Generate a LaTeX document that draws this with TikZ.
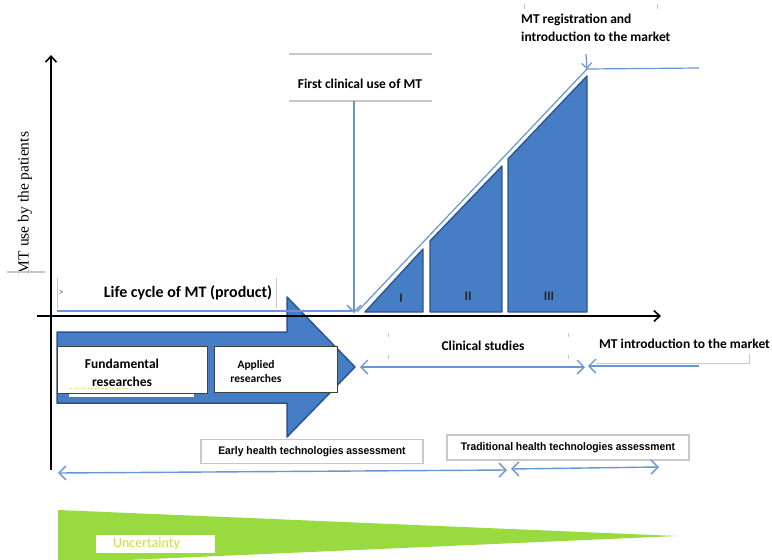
\documentclass[tikz,border=0pt]{standalone}
\usepackage{fontspec}
\setmainfont{Carlito}
\newfontfamily\arialf[FakeStretch=0.94]{Liberation Sans}
\newfontfamily\timesf{Liberation Serif}
\usetikzlibrary{arrows.meta}
\definecolor{mblue}{RGB}{70,126,198}
\definecolor{dblue}{RGB}{44,84,150}
\definecolor{lblue}{RGB}{105,150,210}
\definecolor{lgray}{RGB}{200,200,200}
\definecolor{mgreen}{RGB}{152,218,64}
\definecolor{ygreen}{RGB}{200,226,50}
\tikzset{vbarb/.tip={Straight Barb[length=7pt,width=14pt,line width=1.4pt]}}
\begin{document}
\begin{tikzpicture}[x=1pt,y=-1pt,
  txt/.style={inner sep=0pt, font=\bfseries\fontsize{13.5}{18}\selectfont},
  smalltxt/.style={inner sep=0pt, font=\bfseries\fontsize{11.5}{14}\selectfont},
  hta/.style={draw=lgray, line width=1.5pt, fill=white, inner sep=0pt, font=\arialf\bfseries\fontsize{11}{13}\selectfont},
  wbox/.style={draw=black!75, line width=1pt, fill=white, inner sep=0pt},
  axis/.style={line width=1.8pt, -{Straight Barb[length=6pt,width=11pt,line width=1.6pt]}},
  bline/.style={draw=lblue, line width=1.4pt},
  grayline/.style={draw=lgray, line width=1.4pt},
  stage/.style={fill=mblue, draw=dblue, line width=1.4pt, line join=round},
  roman/.style={inner sep=0pt, font=\bfseries\fontsize{13}{13}\selectfont, text=black!85}
]
\useasboundingbox (0,0) rectangle (772,560);
\fill[white] (0,0) rectangle (772,560);

% uncertainty wedge
\begin{scope}
  \clip (0,0) rectangle (772,560);
  \fill[mgreen] (58,510) -- (677,536) -- (58,563) -- cycle;
\end{scope}
\node[fill=white, minimum width=119pt, minimum height=18pt, inner sep=0pt] (uncbox) at (155.5,544) {};
\node[inner sep=0pt, font=\fontsize{14}{16}\selectfont, text=ygreen] (unc) at (146.5,544) {Uncertainty};

% big research arrow
\draw[stage, line width=1.5pt] (57,332) -- (287,332) -- (287,297) -- (355,367) -- (287,437) -- (287,403) -- (57,403) -- cycle;
\fill[white] (69,390) rectangle (194,397);
\node[wbox, minimum width=150pt, minimum height=47pt] (fundbox) at (132,369.5) {};
\draw[ygreen!70, line width=0.5pt, dash pattern=on 2pt off 1.5pt] (70,388.5) -- (128,388.5);
\node[txt, align=center] (fund) at (122,373) {Fundamental\\researches};
\node[wbox, minimum width=123pt, minimum height=46pt] (applbox) at (275.5,369.5) {};
\node[smalltxt, align=center] (appl) at (256,372) {Applied\\researches};

% axes
\coordinate (yb) at (51,470);
\coordinate (yt) at (51,55);
\coordinate (xl) at (37,316);
\coordinate (xr) at (661,316);
\draw[axis] (yb) -- (yt);
\draw[axis] (xl) -- (xr);
\node[rotate=90, inner sep=0pt, font=\timesf\fontsize{15.5}{18}\selectfont] (ylab) at (25,203) {MT use by the patients};
\coordinate (gl1) at (7,272);
\coordinate (gl2) at (45,272);
\draw[grayline] (gl1) -- (gl2);

% life cycle
\node[txt, font=\bfseries\fontsize{16}{18}\selectfont] (life) at (188,293) {Life cycle of MT (product)};
\draw[grayline, line width=1pt] (57,278) -- (57,308);
\draw[grayline, line width=1pt] (276,278) -- (276,308);
\node[inner sep=0pt, font=\fontsize{10}{10}\selectfont, text=black!60] (gt) at (61,293) {>};
\coordinate (lcl) at (57,311);
\coordinate (lcr) at (352,311);
\draw[bline, line width=1.2pt] (lcl) -- (lcr);

% clinical stages
\draw[stage] (365,312) -- (423,249) -- (423,312) -- cycle;
\draw[stage] (430,312) -- (430,241) -- (502,166) -- (502,312) -- cycle;
\draw[stage] (508,312) -- (508,159) -- (587,76) -- (587,312) -- cycle;
\node[roman] (s1) at (401,298) {I};
\node[roman] (s2) at (468,296) {II};
\node[roman] (s3) at (549,296) {III};

% first clinical use
\draw[grayline] (289,54) -- (432,54);
\draw[grayline] (289,101) -- (432,101);
\node[txt] (fcu) at (360,84) {First clinical use of MT};
\coordinate (fcub) at (354,101);
\coordinate (start) at (354,313);
\draw[bline, -{vbarb}] (fcub) -- (start);
\coordinate (regpt) at (587,69);
\draw[bline, line width=1.2pt] (357,312) -- (regpt);

% registration
\node[txt, align=left, anchor=west] (reg) at (521,28) {MT registration and\\introduction to the market};
\draw[grayline, line width=1pt] (524,4) -- (524,9);
\draw[grayline, line width=1pt] (657,4) -- (657,9);
\coordinate (rega) at (586,54);
\draw[bline, line width=1.2pt, -{Straight Barb[length=5pt,width=10pt,line width=1.2pt]}] (rega) -- (regpt);
\coordinate (regr) at (699,68);
\draw[bline, line width=1.2pt] (regpt) -- (regr);

% clinical studies
\node[txt] (clin) at (483,346) {Clinical studies};
\foreach \xx in {388,568} {
  \draw[grayline, line width=1pt] (\xx,333) -- (\xx,337);
  \draw[grayline, line width=1pt] (\xx,355) -- (\xx,359);
}
\coordinate (cl) at (360,367);
\coordinate (cr) at (585,367);
\draw[bline, {vbarb}-{vbarb}] (cl) -- (cr);

% MT introduction to the market
\node[txt] (mti) at (684.5,344) {MT introduction to the market};
\draw[grayline, line width=1pt] (596,363) -- (749,363) -- (749,354);
\coordinate (mtir) at (699,366);
\coordinate (mtil) at (588,366);
\draw[bline, line width=1.8pt, -{vbarb}] (mtir) -- (mtil);

% HTA boxes
\node[hta, minimum width=222pt, minimum height=24pt] (early) at (312,451.5) {Early health technologies assessment};
\node[hta, minimum width=242pt, minimum height=25pt] (trad) at (568,447.5) {Traditional health technologies assessment};
\coordinate (ea) at (58,473);
\coordinate (eb) at (507,470);
\coordinate (ta) at (511,469);
\coordinate (tb) at (659,467);
\draw[bline, {vbarb}-{vbarb}] (ea) -- (eb);
\draw[bline, {vbarb}-{vbarb}] (ta) -- (tb);
\end{tikzpicture}
\end{document}
